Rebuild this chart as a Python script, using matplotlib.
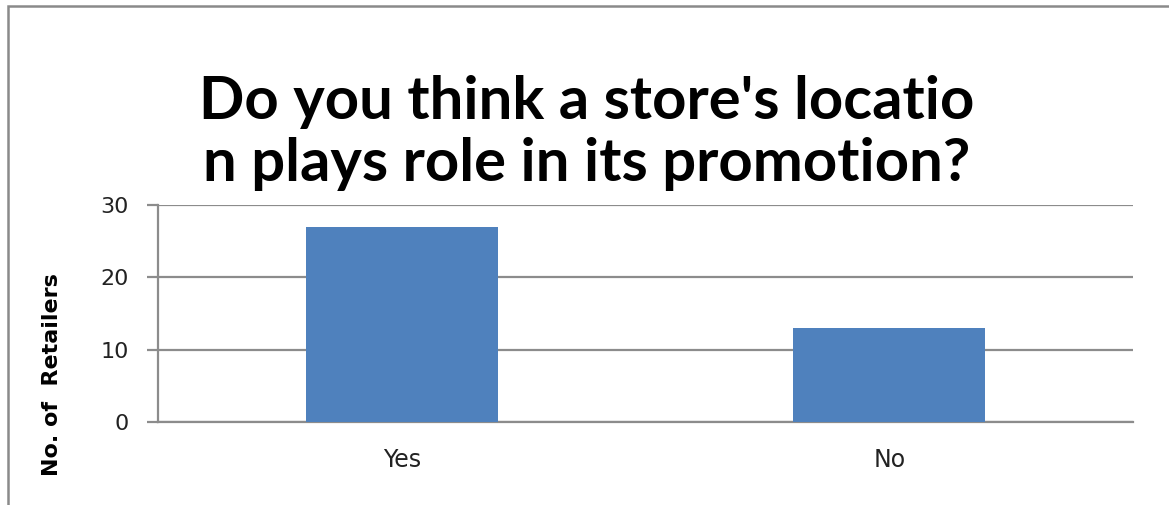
import matplotlib
matplotlib.use("Agg")
import matplotlib.pyplot as plt
from matplotlib.patches import Rectangle

# survey answers
answers = ["Yes", "No"]
retailers = [27, 13]
y_ticks = [0, 10, 20, 30]

title_text = "Do you think a store's locatio\nn plays role in its promotion?"
bar_color = "#4f81bd"
grid_color = "#8c8c8c"

fig = plt.figure(figsize=(11.69, 5.05), dpi=100)
ax = fig.add_axes([0.1352, 0.1644, 0.834, 0.4297])

ax.bar(range(len(answers)), retailers, width=0.394, color=bar_color, zorder=3)
ax.set_xlim(-0.5, len(answers) - 0.5)
ax.set_ylim(0, 30)
ax.set_yticks(y_ticks)
ax.yaxis.grid(True, color=grid_color, linewidth=1.6, zorder=0)

for side in ["top", "right"]:
    ax.spines[side].set_visible(False)
ax.spines["left"].set_color(grid_color)
ax.spines["left"].set_linewidth(1.6)
ax.spines["bottom"].set_color(grid_color)
ax.spines["bottom"].set_linewidth(1.6)

ax.set_xticks(range(len(answers)))
ax.set_xticklabels(answers)
ax.tick_params(axis="x", length=0, pad=19, labelsize=17, labelcolor="#222222")
ax.tick_params(axis="y", length=8, width=1.6, color=grid_color, pad=13,
               labelsize=16, labelcolor="#222222")

fig.text(0.0445, 0.258, "No. of  Retailers", rotation=90, ha="center", va="center",
         fontsize=16, fontweight="bold", family="DejaVu Sans")

fig.text(0.502, 0.737, title_text, ha="center", va="center", fontsize=43,
         fontweight="bold", family="Lato", linespacing=1.17)

# outer chart border
fig.patches.append(Rectangle((0.0068, -0.05), 1.1, 1.038, transform=fig.transFigure,
                             fill=False, edgecolor="#8a8a8a", linewidth=1.8))

fig.savefig("out.png", dpi=100)
